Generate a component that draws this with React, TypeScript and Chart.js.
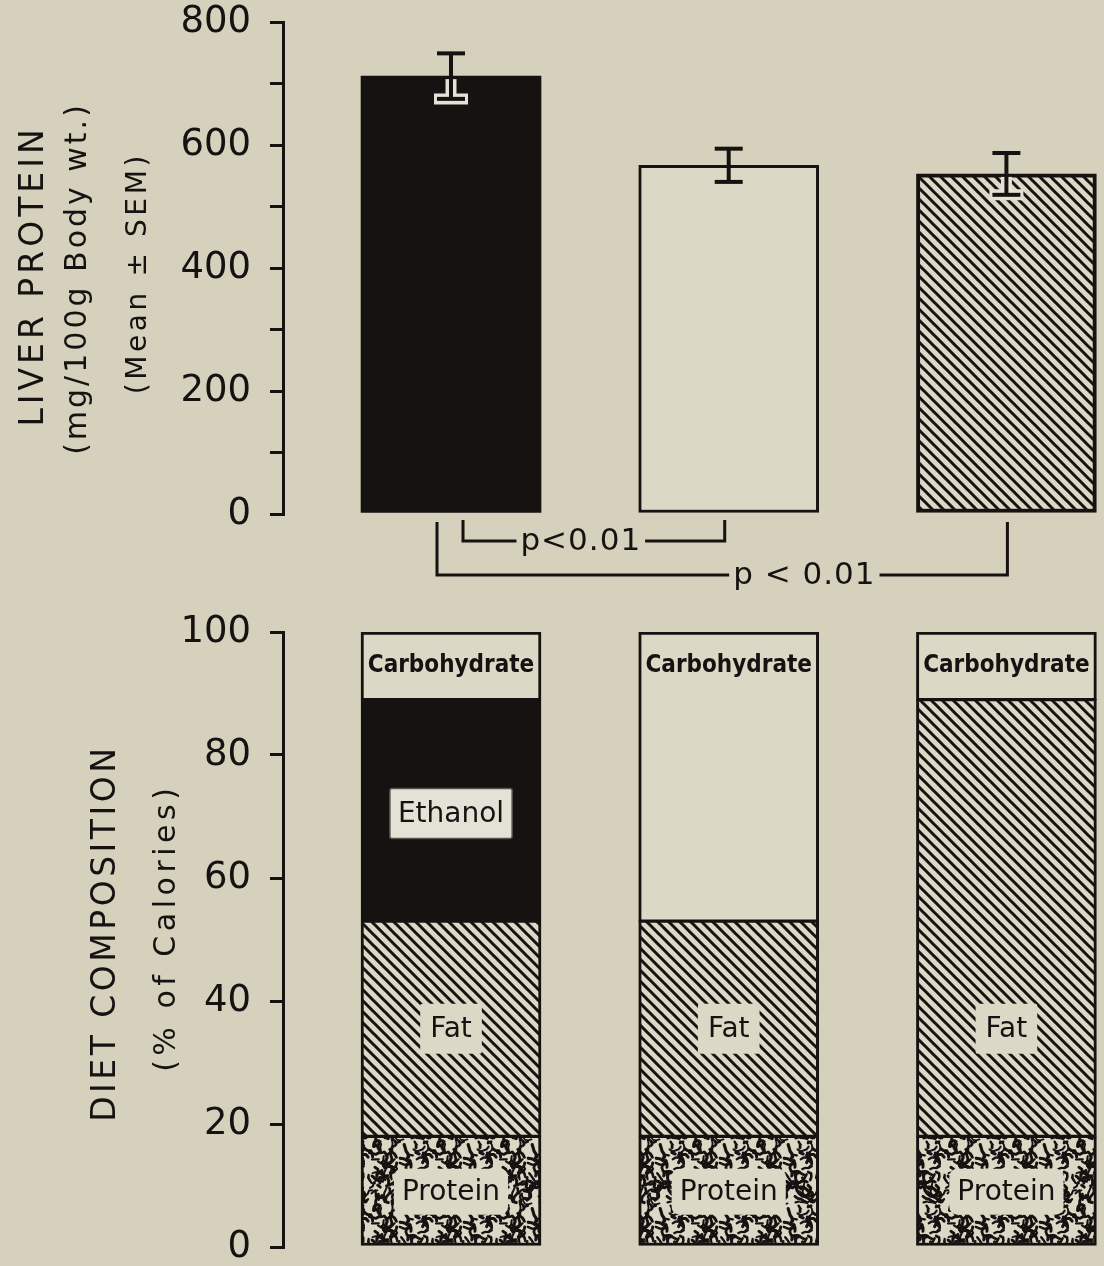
import React, { useEffect, useRef } from 'react';
import { Chart, registerables } from 'chart.js';

Chart.register(...registerables);

// ---------- data ----------
const dietGroups = ['Ethanol diet', 'Control diet', 'High-fat diet'];
const barPositions = [1, 2, 3];
const liverProteinMean = [712, 567, 553];
const liverProteinSem = [37, 27, 34];
const liverTickStep = 100;
const liverLabelEvery = 200;

const components = ['Protein', 'Fat', 'Ethanol', 'Carbohydrate'];
const proteinPct = [18, 18, 18];
const fatPct = [35, 35, 71];
const ethanolPct = [36, 0, 0];
const carbohydratePct = [11, 47, 11];
const componentLabelAt = [9, 35.5, 70.5, 94.5];
const dietTickStep = 20;

const pValueTexts = ['p<0.01', 'p < 0.01'];
const topTitles = ['LIVER PROTEIN', '(mg/100g Body wt.)', '(Mean ± SEM)'];
const bottomTitles = ['DIET COMPOSITION', '(% of Calories)'];

// ---------- style ----------
const BG = '#d5d1bd';
const LIGHT = '#dbd8c6';
const HALO = '#e4e2d6';
const INK = '#161211';
const FAMILY = '"DejaVu Sans", "Liberation Sans", sans-serif';
const NARROW = '"DejaVu Sans Condensed", "Liberation Sans Narrow", sans-serif';

const PAGE_W = 1104;
const TOP_TOP = -16;
const TOP_H = 616;
const BOTTOM_TOP = 594;
const BOTTOM_H = 691;

function makeHatch(s: number, lw: number) {
  const c = document.createElement('canvas');
  c.width = s;
  c.height = s;
  const g = c.getContext('2d')!;
  g.fillStyle = LIGHT;
  g.fillRect(0, 0, s, s);
  g.strokeStyle = INK;
  g.lineWidth = lw;
  g.beginPath();
  for (let k = -1; k <= 1; k++) {
    g.moveTo(-2, -2 + k * s);
    g.lineTo(s + 2, s + 2 + k * s);
  }
  g.stroke();
  return g.createPattern(c, 'repeat')!;
}

function makeStipple() {
  const S = 64;
  const c = document.createElement('canvas');
  c.width = S;
  c.height = S;
  const g = c.getContext('2d')!;
  g.fillStyle = LIGHT;
  g.fillRect(0, 0, S, S);
  let seed = 24691;
  const rnd = () => {
    seed = (seed * 16807) % 2147483647;
    return seed / 2147483647;
  };
  g.strokeStyle = INK;
  g.lineCap = 'round';
  g.lineJoin = 'round';
  for (let i = 0; i < 95; i++) {
    const pts: [number, number][] = [];
    let x = rnd() * S;
    let y = rnd() * S;
    let a = rnd() * Math.PI * 2;
    pts.push([x, y]);
    const n = 1 + Math.floor(rnd() * 5);
    for (let k = 0; k < n; k++) {
      a += (rnd() - 0.5) * 2.2;
      x += Math.cos(a) * 3.4;
      y += Math.sin(a) * 3.4;
      pts.push([x, y]);
    }
    g.lineWidth = 1.8 + rnd() * 1.4;
    for (let ox = -S; ox <= S; ox += S) {
      for (let oy = -S; oy <= S; oy += S) {
        g.beginPath();
        g.moveTo(pts[0][0] + ox, pts[0][1] + oy);
        for (let k = 1; k < pts.length; k++) g.lineTo(pts[k][0] + ox, pts[k][1] + oy);
        g.stroke();
      }
    }
  }
  return g.createPattern(c, 'repeat')!;
}

function drawRotated(ctx: CanvasRenderingContext2D, text: string, x: number, y: number, size: number, spacing: number) {
  ctx.save();
  ctx.translate(x, y);
  ctx.rotate(-Math.PI / 2);
  ctx.font = `${size}px ${FAMILY}`;
  (ctx as any).letterSpacing = `${spacing}px`;
  ctx.fillStyle = INK;
  ctx.textAlign = 'center';
  ctx.textBaseline = 'middle';
  ctx.fillText(text, spacing / 2, 0);
  ctx.restore();
}

function line(ctx: CanvasRenderingContext2D, x1: number, y1: number, x2: number, y2: number) {
  ctx.beginPath();
  ctx.moveTo(x1, y1);
  ctx.lineTo(x2, y2);
  ctx.stroke();
}

const xScale = (stacked: boolean) => ({
  type: 'linear' as const,
  min: 0.395,
  max: 3.337,
  offset: false,
  display: false,
  stacked,
});

const yAxisCommon = (min: number, max: number, step: number, labelEvery: number) => ({
  min,
  max,
  afterFit: (s: any) => {
    s.width = 283;
  },
  border: { display: true, color: INK, width: 3 },
  grid: { drawOnChartArea: false, drawTicks: true, tickLength: 13, color: INK, lineWidth: 3 },
  ticks: {
    stepSize: step,
    padding: 19,
    color: INK,
    font: { family: FAMILY, size: 37, lineHeight: 1 },
    callback: (v: any) => (Number(v) % labelEvery === 0 ? String(v) : ''),
  },
});

export default function App() {
  const topRef = useRef<HTMLCanvasElement>(null);
  const bottomRef = useRef<HTMLCanvasElement>(null);

  useEffect(() => {
    document.body.style.margin = '0';
    document.body.style.background = BG;
    const hatchTop = makeHatch(11, 3);
    const hatchFat = makeHatch(11, 3);
    const stipple = makeStipple();

    const topPlugin = {
      id: 'topDecor',
      afterDatasetsDraw(chart: any) {
        const ctx: CanvasRenderingContext2D = chart.ctx;
        const y = chart.scales.y;
        const meta = chart.getDatasetMeta(0);
        ctx.save();
        ctx.lineCap = 'butt';
        meta.data.forEach((bar: any, i: number) => {
          const x = bar.x;
          const yM = y.getPixelForValue(liverProteinMean[i]);
          const yT = y.getPixelForValue(liverProteinMean[i] + liverProteinSem[i]);
          const yB = y.getPixelForValue(liverProteinMean[i] - liverProteinSem[i]);
          const cap = 14;
          ctx.strokeStyle = INK;
          ctx.lineWidth = 4;
          line(ctx, x, yM, x, yT);
          line(ctx, x - cap, yT, x + cap, yT);
          if (i !== 1) {
            ctx.strokeStyle = HALO;
            ctx.lineWidth = 11;
            line(ctx, x, yM + 3, x, yB);
            line(ctx, x - cap - 3, yB, x + cap + 3, yB);
          }
          ctx.strokeStyle = INK;
          ctx.lineWidth = 4;
          line(ctx, x, yM, x, yB);
          line(ctx, x - cap, yB, x + cap, yB);
        });
        // significance brackets
        const c = meta.data.map((b: any) => b.x);
        const y0 = y.getPixelForValue(0);
        ctx.strokeStyle = INK;
        ctx.lineWidth = 3;
        ctx.fillStyle = INK;
        ctx.font = `31px ${FAMILY}`;
        (ctx as any).letterSpacing = '1px';
        ctx.textAlign = 'center';
        ctx.textBaseline = 'middle';
        const brackets = [
          { l: c[0] + 12, r: c[1] - 4, top: y0 + 6, h: y0 + 27, f: 0.45, t: pValueTexts[0] },
          { l: c[0] - 14, r: c[2] + 1, top: y0 + 8, h: y0 + 61, f: 0.644, t: pValueTexts[1] },
        ];
        brackets.forEach((b) => {
          const tx = b.l + (b.r - b.l) * b.f;
          const tw = ctx.measureText(b.t).width;
          ctx.beginPath();
          ctx.moveTo(b.l, b.top);
          ctx.lineTo(b.l, b.h);
          ctx.lineTo(tx - tw / 2 - 4, b.h);
          ctx.stroke();
          ctx.beginPath();
          ctx.moveTo(tx + tw / 2 + 4, b.h);
          ctx.lineTo(b.r, b.h);
          ctx.lineTo(b.r, b.top);
          ctx.stroke();
          ctx.fillText(b.t, tx, b.h + 1);
        });
        ctx.restore();
        const off = -TOP_TOP;
        drawRotated(ctx, topTitles[0], 34, 278 + off, 33, 4);
        drawRotated(ctx, topTitles[1], 78, 280 + off, 30, 3);
        drawRotated(ctx, topTitles[2], 139, 275 + off, 28, 3.6);
      },
    };

    const compValues = [proteinPct, fatPct, ethanolPct, carbohydratePct];
    const bottomPlugin = {
      id: 'bottomDecor',
      afterDatasetsDraw(chart: any) {
        const ctx: CanvasRenderingContext2D = chart.ctx;
        const y = chart.scales.y;
        const meta = chart.getDatasetMeta(0);
        ctx.save();
        ctx.textAlign = 'center';
        ctx.textBaseline = 'middle';
        meta.data.forEach((bar: any, i: number) => {
          const x = bar.x;
          components.forEach((name, k) => {
            if (!compValues[k][i]) return;
            const yy = y.getPixelForValue(componentLabelAt[k]);
            if (name === 'Carbohydrate') {
              ctx.font = `bold 24px ${NARROW}`;
              (ctx as any).letterSpacing = '0px';
              ctx.fillStyle = INK;
              ctx.fillText(name, x, yy);
              return;
            }
            ctx.font = `28px ${FAMILY}`;
            (ctx as any).letterSpacing = '0px';
            const w = ctx.measureText(name).width;
            const padX = name === 'Fat' ? 10 : 8;
            const h = name === 'Protein' ? 46 : 50;
            ctx.fillStyle = name === 'Ethanol' ? HALO : LIGHT;
            ctx.beginPath();
            (ctx as any).roundRect(x - w / 2 - padX, yy - h / 2, w + padX * 2, h, name === 'Protein' ? 8 : 2);
            ctx.fill();
            if (name === 'Ethanol') {
              ctx.strokeStyle = '#55504a';
              ctx.lineWidth = 1.5;
              ctx.stroke();
            }
            ctx.fillStyle = INK;
            ctx.fillText(name, x, yy + 1);
          });
        });
        ctx.restore();
        drawRotated(ctx, bottomTitles[0], 106, 935 - BOTTOM_TOP, 33, 3.5);
        drawRotated(ctx, bottomTitles[1], 167, 930 - BOTTOM_TOP, 30, 4.5);
      },
    };

    const top = new Chart(topRef.current!, {
      type: 'bar',
      data: {
        labels: dietGroups,
        datasets: [
          {
            label: 'Liver protein',
            data: barPositions.map((x, i) => ({ x, y: liverProteinMean[i] })),
            backgroundColor: [INK, LIGHT, hatchTop],
            borderColor: INK,
            borderWidth: [0, 3, 4],
            borderSkipped: false,
            barThickness: 180,
          } as any,
        ],
      },
      options: {
        animation: false,
        responsive: false,
        maintainAspectRatio: false,
        layout: { padding: { top: 22 - TOP_TOP, bottom: TOP_H + TOP_TOP - 514, left: 0, right: 4 } },
        plugins: { legend: { display: false }, tooltip: { enabled: false } },
        scales: {
          x: xScale(false),
          y: yAxisCommon(0, 800, liverTickStep, liverLabelEvery) as any,
        },
      },
      plugins: [topPlugin],
    });

    const fills = [stipple, hatchFat, INK, LIGHT];
    const borders = [
      { left: 3, right: 3, top: 2, bottom: 3 },
      { left: 3, right: 3, top: 2, bottom: 2 },
      { left: 3, right: 3, top: 2, bottom: 2 },
      { left: 3, right: 3, top: 3, bottom: 2 },
    ];
    const bottom = new Chart(bottomRef.current!, {
      type: 'bar',
      data: {
        labels: dietGroups,
        datasets: components.map((name, k) => ({
          label: name,
          data: barPositions.map((x, i) => ({ x, y: compValues[k][i] })),
          backgroundColor: fills[k],
          borderColor: INK,
          borderWidth: (c: any) => (c.raw && c.raw.y ? borders[k] : 0),
          borderSkipped: false,
          barThickness: 180,
        })) as any,
      },
      options: {
        animation: false,
        responsive: false,
        maintainAspectRatio: false,
        layout: { padding: { top: 632 - BOTTOM_TOP, bottom: BOTTOM_TOP + BOTTOM_H - 1247, left: 0, right: 4 } },
        plugins: { legend: { display: false }, tooltip: { enabled: false } },
        scales: {
          x: xScale(true),
          y: { ...(yAxisCommon(0, 100, dietTickStep, dietTickStep) as any), stacked: true },
        },
      },
      plugins: [bottomPlugin],
    });

    return () => {
      top.destroy();
      bottom.destroy();
    };
  }, []);

  return (
    <div style={{ position: 'absolute', left: 0, top: 0, width: PAGE_W, height: 1266, background: BG, overflow: 'hidden' }}>
      <canvas
        ref={topRef}
        width={PAGE_W}
        height={TOP_H}
        style={{ position: 'absolute', left: 0, top: TOP_TOP, width: PAGE_W, height: TOP_H }}
      />
      <canvas
        ref={bottomRef}
        width={PAGE_W}
        height={BOTTOM_H}
        style={{ position: 'absolute', left: 0, top: BOTTOM_TOP, width: PAGE_W, height: BOTTOM_H }}
      />
    </div>
  );
}
